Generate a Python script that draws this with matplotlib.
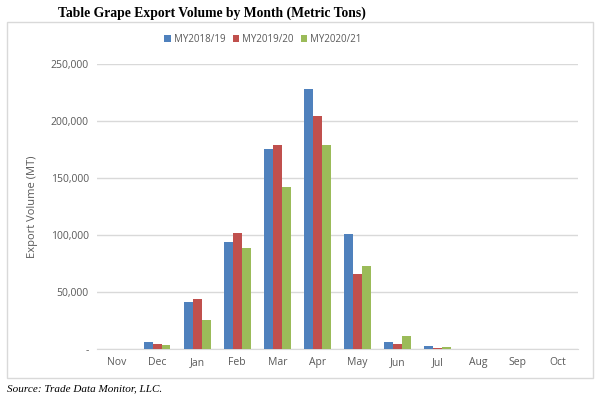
import matplotlib.pyplot as plt
import numpy as np
from matplotlib.patches import Rectangle
from matplotlib.ticker import FuncFormatter

months = ['Nov', 'Dec', 'Jan', 'Feb', 'Mar', 'Apr', 'May', 'Jun', 'Jul', 'Aug', 'Sep', 'Oct']
my2018 = [0, 5900, 41000, 94100, 175200, 227800, 100900, 6400, 2300, 0, 0, 0]
my2019 = [0, 4100, 43900, 101800, 179000, 204100, 65500, 4700, 500, 0, 0, 0]
my2020 = [0, 3800, 25700, 88900, 142400, 178700, 72800, 11100, 1500, 0, 0, 0]
series_names = ['MY2018/19', 'MY2019/20', 'MY2020/21']
colors = ['#4F81BD', '#C0504D', '#9BBB59']

fig = plt.figure(figsize=(6, 3.97), dpi=100)

# chart border box
fig.patches.append(Rectangle((7 / 600, 1 - 378 / 397), 586 / 600, 356 / 397,
                             transform=fig.transFigure, fill=False,
                             edgecolor='#D9D9D9', lw=1))

ax = fig.add_axes([0.1617, 0.1209, 0.8016, 0.7179])
x = np.arange(len(months))
w = 0.222
for i, (vals, name, c) in enumerate(zip([my2018, my2019, my2020], series_names, colors)):
    ax.bar(x + (i - 1) * w, vals, width=w, color=c, label=name, zorder=3)

ax.set_xlim(-0.5, 11.5)
ax.set_ylim(0, 250000)
ax.set_yticks(range(0, 250001, 50000))
ax.yaxis.set_major_formatter(FuncFormatter(lambda v, p: '-' if v == 0 else f'{int(v):,}'))
ax.set_xticks(x)
ax.set_xticklabels(months)
ax.grid(axis='y', color='#D9D9D9', lw=1, zorder=0)
for s in ['top', 'right', 'left']:
    ax.spines[s].set_visible(False)
ax.spines['bottom'].set_color('#D9D9D9')
ax.tick_params(length=0, labelsize=7.5, labelcolor='#595959', pad=6)
for lab in ax.get_xticklabels() + ax.get_yticklabels():
    lab.set_family('Open Sans')
ax.set_ylabel('Export Volume (MT)', fontsize=8, color='#595959', family='Open Sans', labelpad=9)

ax.legend(loc='center', bbox_to_anchor=(263 / 600, 1 - 39 / 397), bbox_transform=fig.transFigure,
          ncol=3, frameon=False, prop={'family': 'Open Sans', 'size': 7},
          handlelength=0.7, handleheight=0.7, handletextpad=0.3, columnspacing=0.7,
          labelcolor='#595959')

fig.text(212 / 600, 1 - 13 / 397, 'Table Grape Export Volume by Month (Metric Tons)',
         ha='center', va='center', fontsize=9.8, fontweight='bold', family='Liberation Serif')
fig.text(7 / 600, 1 - 389 / 397, 'Source: Trade Data Monitor, LLC.',
         ha='left', va='center', fontsize=8, style='italic', family='Liberation Serif')

fig.savefig('out.png', dpi=100)
